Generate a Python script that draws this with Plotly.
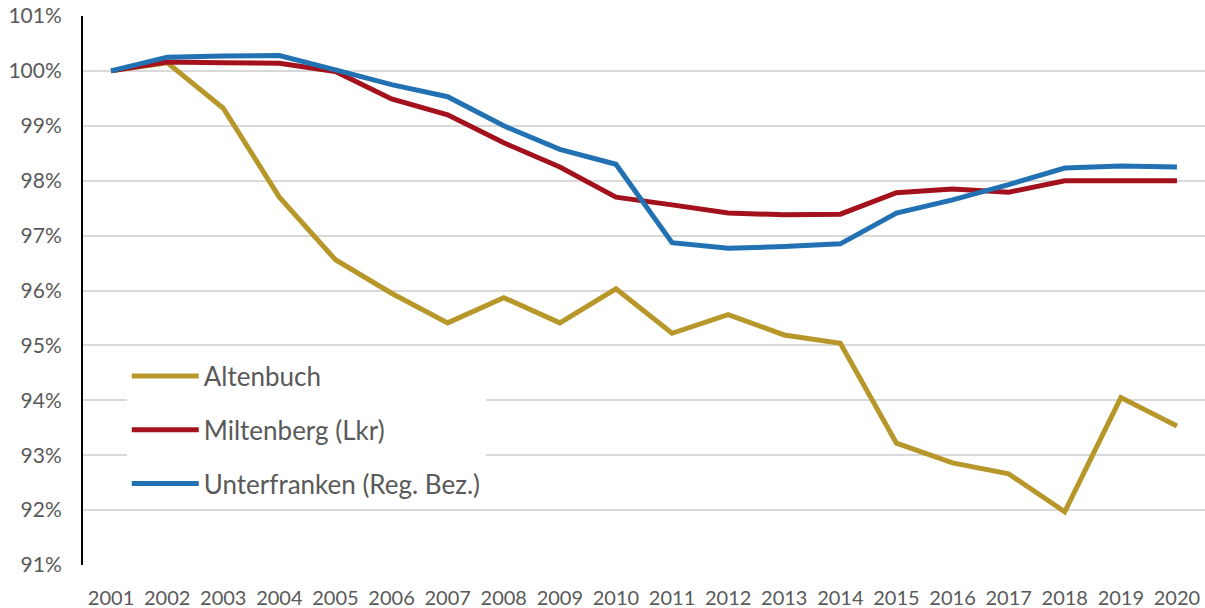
import plotly.graph_objects as go

years = [str(y) for y in range(2001, 2021)]

altenbuch = [100.0, 100.15, 99.32, 97.70, 96.56, 95.95, 95.41, 95.87, 95.41, 96.03,
             95.22, 95.56, 95.19, 95.04, 93.22, 92.86, 92.66, 91.97, 94.05, 93.53]
miltenberg = [100.0, 100.16, 100.15, 100.14, 99.99, 99.49, 99.20, 98.69, 98.25, 97.70,
              97.56, 97.41, 97.38, 97.39, 97.78, 97.85, 97.79, 98.0, 98.0, 98.0]
unterfranken = [100.0, 100.25, 100.27, 100.28, 100.02, 99.75, 99.53, 99.0, 98.57, 98.30,
                96.87, 96.77, 96.80, 96.85, 97.41, 97.65, 97.93, 98.23, 98.27, 98.25]

series_names = ["Altenbuch", "Miltenberg (Lkr)", "Unterfranken (Reg. Bez.)"]
colors = ["#B8972A", "#A3121C", "#2271B3"]

y_ticks = list(range(91, 102))

fig = go.Figure()
for name, vals, col in zip(series_names, [altenbuch, miltenberg, unterfranken], colors):
    fig.add_trace(go.Scatter(x=years, y=vals, name=name, mode="lines",
                             legendgroup=name,
                             line=dict(color=col, width=5)))

fig.update_layout(
    width=1205, height=608,
    margin=dict(l=83, r=0, t=16, b=43),
    plot_bgcolor="white", paper_bgcolor="white",
    font=dict(family="Lato", color="#595959"),
    showlegend=True,
    legend=dict(x=0.039, y=0.387, xanchor="left", yanchor="top",
                bgcolor="white", font=dict(size=26, color="#595959"),
                tracegroupgap=17, itemwidth=67),
)

fig.update_xaxes(
    type="category", range=[-0.5, 19.5], showgrid=False, automargin=False,
    ticks="outside", ticklen=15, tickcolor="rgba(0,0,0,0)",
    tickfont=dict(size=20, color="#595959"),
)
fig.update_yaxes(
    range=[91, 101], tickvals=y_ticks, ticktext=[f"{v}%" for v in y_ticks],
    showgrid=True, gridcolor="#D9D9D9", gridwidth=1.5, automargin=False,
    showline=True, linecolor="black", linewidth=2,
    zeroline=False, ticklabeloverflow="allow",
    ticks="outside", ticklen=15, tickcolor="rgba(0,0,0,0)",
    tickfont=dict(size=21, color="#595959"),
)

# drop the default 8px body margin so the figure fills the window exactly
fig.write_html("out.html", config={"displayModeBar": False},
               post_script="document.body.style.margin='0';")
